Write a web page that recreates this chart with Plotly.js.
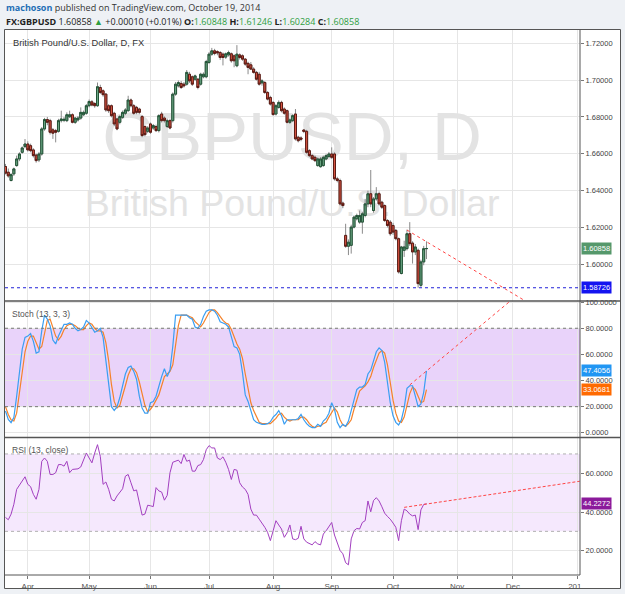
<!DOCTYPE html>
<html><head><meta charset="utf-8">
<script src="https://cdn.plot.ly/plotly-3.0.1.min.js"></script>
<style>html,body{margin:0;padding:0;background:#eef1f5;}#chart{width:625px;height:594px;}</style>
</head><body><div id="chart"></div>
<script>
// ---- trading days (daily bars, FX) ----
const dates = ('2014-03-20 2014-03-21 2014-03-24 2014-03-25 2014-03-26 2014-03-27 2014-03-28 2014-03-31 ' +
'2014-04-01 2014-04-02 2014-04-03 2014-04-04 2014-04-07 2014-04-08 2014-04-09 2014-04-10 2014-04-11 2014-04-14 2014-04-15 2014-04-16 2014-04-17 2014-04-18 2014-04-21 2014-04-22 2014-04-23 2014-04-24 2014-04-25 2014-04-28 2014-04-29 2014-04-30 ' +
'2014-05-01 2014-05-02 2014-05-05 2014-05-06 2014-05-07 2014-05-08 2014-05-09 2014-05-12 2014-05-13 2014-05-14 2014-05-15 2014-05-16 2014-05-19 2014-05-20 2014-05-21 2014-05-22 2014-05-23 2014-05-26 2014-05-27 2014-05-28 2014-05-29 2014-05-30 ' +
'2014-06-02 2014-06-03 2014-06-04 2014-06-05 2014-06-06 2014-06-09 2014-06-10 2014-06-11 2014-06-12 2014-06-13 2014-06-16 2014-06-17 2014-06-18 2014-06-19 2014-06-20 2014-06-23 2014-06-24 2014-06-25 2014-06-26 2014-06-27 2014-06-30 ' +
'2014-07-01 2014-07-02 2014-07-03 2014-07-04 2014-07-07 2014-07-08 2014-07-09 2014-07-10 2014-07-11 2014-07-14 2014-07-15 2014-07-16 2014-07-17 2014-07-18 2014-07-21 2014-07-22 2014-07-23 2014-07-24 2014-07-25 2014-07-28 2014-07-29 2014-07-30 2014-07-31 ' +
'2014-08-01 2014-08-04 2014-08-05 2014-08-06 2014-08-07 2014-08-08 2014-08-11 2014-08-12 2014-08-13 2014-08-14 2014-08-15 2014-08-18 2014-08-19 2014-08-20 2014-08-21 2014-08-22 2014-08-25 2014-08-26 2014-08-27 2014-08-28 2014-08-29 ' +
'2014-09-01 2014-09-02 2014-09-03 2014-09-04 2014-09-05 2014-09-08 2014-09-09 2014-09-10 2014-09-11 2014-09-12 2014-09-15 2014-09-16 2014-09-17 2014-09-18 2014-09-19 2014-09-22 2014-09-23 2014-09-24 2014-09-25 2014-09-26 2014-09-29 2014-09-30 ' +
'2014-10-01 2014-10-02 2014-10-03 2014-10-06 2014-10-07 2014-10-08 2014-10-09 2014-10-10 2014-10-13 2014-10-14 2014-10-15 2014-10-16 2014-10-17').split(' ');

const open = [1.6531,1.6500,1.6455,1.6491,1.6536,1.6572,1.6608,1.6639,
1.6653,1.6644,1.6621,1.6593,1.6567,1.6599,1.6735,1.6786,1.6780,1.6730,1.6726,1.6722,1.6780,1.6782,1.6780,1.6801,1.6812,1.6771,1.6784,1.6794,1.6812,1.6820,
1.6861,1.6882,1.6873,1.6861,1.6960,1.6942,1.6924,1.6861,1.6861,1.6820,1.6789,1.6771,1.6798,1.6820,1.6834,1.6892,1.6861,1.6852,1.6843,1.6802,1.6748,1.6722,
1.6762,1.6740,1.6748,1.6726,1.6816,1.6794,1.6748,1.6780,1.6780,1.6924,1.6969,1.6982,1.6978,1.6978,1.7032,1.7018,1.7005,1.7005,1.6978,1.7018,1.7018,
1.7096,1.7141,1.7159,1.7155,1.7150,1.7141,1.7125,1.7137,1.7143,1.7132,1.7078,1.7137,1.7132,1.7114,1.7091,1.7083,1.7060,1.7042,1.7032,1.6985,1.6987,1.6933,1.6906,
1.6879,1.6816,1.6852,1.6879,1.6843,1.6834,1.6771,1.6780,1.6816,1.6690,1.6686,1.6729,1.6722,1.6617,1.6590,1.6581,1.6536,1.6530,1.6536,1.6572,1.6585,
1.6599,1.6599,1.6464,1.6455,1.6332,1.6157,1.6098,1.6103,1.6202,1.6247,1.6229,1.6229,1.6265,1.6328,1.6383,1.6292,1.6355,1.6383,1.6337,1.6319,1.6238,1.6229,
1.6211,1.6184,1.6139,1.5950,1.6076,1.6085,1.6166,1.6115,1.6067,1.6076,1.5886,1.6013,1.60848];
const high = [1.6545,1.6520,1.6495,1.6525,1.6590,1.6608,1.6640,1.6680,
1.6668,1.6655,1.6630,1.6600,1.6610,1.6745,1.6795,1.6800,1.6790,1.6740,1.6735,1.6790,1.6834,1.6800,1.6825,1.6834,1.6820,1.6800,1.6805,1.6852,1.6835,1.6870,
1.6895,1.6892,1.6880,1.6987,1.6975,1.6950,1.6930,1.6870,1.6868,1.6828,1.6795,1.6810,1.6835,1.6848,1.6915,1.6900,1.6870,1.6860,1.6850,1.6810,1.6755,1.6750,
1.6770,1.6762,1.6758,1.6815,1.6828,1.6803,1.6790,1.6790,1.6933,1.6990,1.6998,1.6995,1.6990,1.7055,1.7045,1.7025,1.7030,1.7012,1.7040,1.7042,1.7110,
1.7152,1.7175,1.7170,1.7162,1.7158,1.7150,1.7150,1.7160,1.7150,1.7140,1.7190,1.7145,1.7140,1.7120,1.7100,1.7098,1.7070,1.7050,1.7045,1.7005,1.6995,1.6940,1.6915,
1.6885,1.6870,1.6890,1.6888,1.6852,1.6840,1.6792,1.6815,1.6843,1.6698,1.6695,1.6735,1.6730,1.6625,1.6598,1.6590,1.6580,1.6582,1.6590,1.6600,1.6610,
1.6635,1.6608,1.6475,1.6465,1.6340,1.6220,1.6135,1.6215,1.6265,1.6275,1.6292,1.6285,1.6355,1.6400,1.6512,1.6365,1.6419,1.6395,1.6345,1.6325,1.6245,1.6240,
1.6225,1.6192,1.6145,1.6100,1.6128,1.6188,1.6229,1.6125,1.6110,1.6085,1.6025,1.6100,1.61246];
const low = [1.6488,1.6470,1.6450,1.6480,1.6530,1.6560,1.6600,1.6630,
1.6612,1.6608,1.6580,1.6552,1.6555,1.6590,1.6725,1.6755,1.6705,1.6681,1.6662,1.6715,1.6770,1.6772,1.6772,1.6795,1.6765,1.6762,1.6775,1.6785,1.6805,1.6812,
1.6852,1.6858,1.6850,1.6855,1.6925,1.6910,1.6828,1.6822,1.6798,1.6750,1.6728,1.6760,1.6790,1.6810,1.6828,1.6852,1.6812,1.6815,1.6815,1.6690,1.6695,1.6712,
1.6708,1.6730,1.6718,1.6716,1.6770,1.6770,1.6740,1.6733,1.6770,1.6915,1.6960,1.6952,1.6960,1.6970,1.6985,1.6968,1.6995,1.6950,1.6970,1.7010,1.7010,
1.7088,1.7132,1.7135,1.7135,1.7110,1.7080,1.7115,1.7128,1.7095,1.7070,1.7070,1.7112,1.7105,1.7078,1.7032,1.7055,1.7035,1.6998,1.6970,1.6970,1.6925,1.6890,1.6862,
1.6807,1.6808,1.6845,1.6825,1.6812,1.6765,1.6762,1.6772,1.6672,1.6662,1.6668,1.6712,1.6600,1.6582,1.6565,1.6555,1.6530,1.6525,1.6530,1.6565,1.6578,
1.6572,1.6455,1.6445,1.6320,1.6305,1.6090,1.6050,1.6058,1.6195,1.6238,1.6220,1.6166,1.6255,1.6310,1.6310,1.6280,1.6345,1.6318,1.6300,1.6230,1.6200,1.6155,
1.6160,1.6130,1.5950,1.5945,1.6040,1.6075,1.6100,1.6004,1.6050,1.58726,1.5877,1.5995,1.60284];
const close = [1.6495,1.6480,1.6487,1.6518,1.6572,1.6599,1.6632,1.6653,
1.6621,1.6617,1.6590,1.6563,1.6599,1.6735,1.6786,1.6771,1.6717,1.6712,1.6717,1.6780,1.6789,1.6787,1.6812,1.6812,1.6771,1.6794,1.6794,1.6825,1.6825,1.6861,
1.6884,1.6865,1.6861,1.6964,1.6933,1.6921,1.6838,1.6834,1.6807,1.6762,1.6735,1.6802,1.6825,1.6838,1.6892,1.6861,1.6820,1.6825,1.6825,1.6699,1.6704,1.6740,
1.6717,1.6753,1.6726,1.6807,1.6780,1.6780,1.6780,1.6740,1.6924,1.6978,1.6987,1.6960,1.6969,1.7042,1.6996,1.6978,1.7023,1.6960,1.7032,1.7032,1.7101,
1.7141,1.7159,1.7145,1.7148,1.7123,1.7123,1.7143,1.7150,1.7105,1.7105,1.7141,1.7123,1.7114,1.7087,1.7069,1.7060,1.7042,1.7005,1.6978,1.6996,1.6933,1.6897,1.6870,
1.6813,1.6861,1.6879,1.6834,1.6820,1.6771,1.6784,1.6807,1.6681,1.6671,1.6679,1.6722,1.6608,1.6590,1.6572,1.6563,1.6572,1.6572,1.6581,1.6590,1.6599,
1.6581,1.6464,1.6455,1.6328,1.6319,1.6098,1.6120,1.6202,1.6256,1.6265,1.6265,1.6274,1.6328,1.6383,1.6328,1.6355,1.6383,1.6328,1.6310,1.6238,1.6211,1.6166,
1.6175,1.6139,1.5959,1.6094,1.6094,1.6166,1.6112,1.6067,1.6094,1.5895,1.6013,1.60848,1.60858];

const stochK = [16.7,10.3,7.8,11.6,28,48,64,73,74,76,
70,61,62,78,90,87,82,71,68,74,
79,83,83,84,83,80,78,79,81,86,
84,80,77,78,80,73,55,36,20,17,
20,27,36,45,50,51,47,41,28,19,
15,15,23,24,28,36,43,49,43,48,
66,90,90,90,90,90,88,87,81,80,
83,89,93,94,94,93,90,85,84,83,
81,73,66,65,60,46,29,24,17,10,
8,7,6.5,6.5,7,8.5,12,14,17,13,
6.5,10,10,10,10,11,14,10,7,5,
4,4,6.5,5,9,11,15,23,18,8,
4,6.5,5,9,17,27,33,35,35,37,
45,48,56,62,65,63,54,38,23,13,
8,6,10,19,34,36,36,28,20,22,
31,47.4056];
const stochD = [20,14,10,9,15,30,47,62,70,74,
74,69,64,66,77,86,87,80,74,71,
74,79,82,83,83,82,80,79,79,82,
84,83,80,78,78,77,69,55,37,24,
19,21,28,36,44,49,49,46,39,29,
21,16,18,21,25,29,36,43,45,47,
52,68,82,90,90,90,89,88,85,83,
81,84,88,92,94,94,92,89,86,84,
83,79,73,68,64,57,45,33,23,17,
12,8,7,7,7,7,9,11,14,15,
12,10,9,10,10,10,12,12,10,7,
5,4,5,5,7,8,12,16,19,16,
10,6,5,7,10,18,26,32,34,36,
39,43,50,55,61,63,61,52,38,25,
15,9,8,12,21,30,35,33,28,23,
24,33.0681];
const rsi = [37.2,36,38.9,44,51.7,53.8,56,58.2,54.3,53.1,
49.1,46.6,51.7,66.2,67.9,66.2,59.4,59.4,60.3,64.5,
64.5,63.7,66.2,60.3,62,62,62.3,63.3,66.8,70.5,
67.9,65.4,70.5,74.8,68.8,54.3,55.5,51.7,46.6,45.7,
48.3,50,52,58.5,59.4,55.1,50.9,51.4,44.9,38.4,
38.9,43.5,43.2,42.8,52.6,50.9,50.3,46.1,48.6,60.3,
65.7,66.2,66.8,65,69.7,66.2,66.8,61.1,61.1,64,
64.5,67.1,72.2,74.3,73.1,73.1,67.9,67.1,68.5,65.7,
62,56.8,62,61.6,55.1,52.9,51.7,49.1,41.5,38.4,
38.4,36.3,34.3,32.1,29.5,25.2,30.3,35.5,33.3,31.2,
26.9,29.2,33.3,26.1,25.7,26.4,32.6,26.1,24.4,23.9,
23,24.7,23.5,23,28.6,30.3,32.6,34.6,28.1,23.7,
20.1,18.4,13.8,12.7,26.1,30.3,31.5,31.2,34.6,35.5,
45.7,40.1,45.9,47.4,45.7,42.7,39.4,37.7,36.3,34.3,
32.1,25.2,35.5,41.5,40.6,38.9,38,38.4,30.9,41.1,
43.9,44.2272];

const monthTicks = ['2014-04-01','2014-05-01','2014-06-02','2014-07-01','2014-08-01','2014-09-01','2014-10-01','2014-11-03','2014-12-01','2015-01-01'];
const monthLabels = ['Apr','May','Jun','Jul','Aug','Sep','Oct','Nov','Dec','2015'];
const stochTicks = [0,20,40,60,80,100];
const rsiTicks = [20,40,60];
const lowLevel = 1.58726;
const change = '+0.00010 (+0.01%)';
// drawn trend lines [start, end]
const priceTrendX = ['2014-10-08','2014-12-05'], priceTrendY = [1.6186,1.5805];
const stochTrendX = ['2014-10-09','2014-12-03'], stochTrendY = [36.6,106.1];
const rsiTrendX = ['2014-10-07','2015-01-02'], rsiTrendY = [42.4,55.9];
const watermark1 = 'GBPUSD, D', watermark2 = 'British Pound/U.S. Dollar';

// ---- presentation ----
const N = close.length;
const T = d => d + ' 12:00';
const xd = dates.map(T);
const bodyHi = open.map((o,i)=>Math.max(o,close[i]));
const bodyLo = open.map((o,i)=>Math.min(o,close[i]));
const PX = x => x/625, PY = y => 1 - y/594;
const mainDom = [PY(301), PY(30)], stochDom = [PY(437), PY(301)], rsiDom = [PY(575), PY(438)];
const FONT = 'Liberation Sans, Arial, sans-serif';
const HFONT = 'Open Sans, Liberation Sans, sans-serif';

const traces = [
  {type:'scatter', mode:'text', x:['2014-08-12 07:00','2014-08-12 07:00'], y:[0.583,0.35], yaxis:'y4',
   text:[watermark1, watermark2], textposition:'middle center', cliponaxis:false,
   textfont:{family:FONT, size:[69,37.5], color:'#e3e3e3'}, hoverinfo:'skip'},
  {type:'candlestick', x:xd, open:open, high:high, low:low, close:close, yaxis:'y',
   increasing:{line:{color:'#8a8a8a',width:1}, fillcolor:'#8a8a8a'},
   decreasing:{line:{color:'#8a8a8a',width:1}, fillcolor:'#8a8a8a'}, whiskerwidth:0, hoverinfo:'skip'},
  {type:'candlestick', x:xd, open:open, high:bodyHi, low:bodyLo, close:close, yaxis:'y',
   increasing:{line:{color:'#225437',width:1}, fillcolor:'#6ba583'},
   decreasing:{line:{color:'#5b1a13',width:1}, fillcolor:'#d75442'}, whiskerwidth:0, hoverinfo:'skip'},
  {type:'scatter', mode:'lines', x:xd, y:stochD, yaxis:'y2', line:{color:'#f5822a', width:1.2}, hoverinfo:'skip'},
  {type:'scatter', mode:'lines', x:xd, y:stochK, yaxis:'y2', line:{color:'#3a9ef2', width:1.2}, hoverinfo:'skip'},
  {type:'scatter', mode:'lines', x:xd, y:rsi, yaxis:'y3', line:{color:'#a23fc0', width:1}, hoverinfo:'skip'}
];

const axCommon = {side:'right', anchor:'x', ticks:'outside', ticklen:3, tickcolor:'#777',
  tickfont:{family:FONT, size:7.5, color:'#444'}, showgrid:true, gridcolor:'#e6e6e6', gridwidth:1,
  zeroline:false, showline:false, fixedrange:true};

const shapes = [
  {type:'rect', xref:'paper', yref:'paper', x0:PX(4.5), x1:PX(620.5), y0:PY(588.5), y1:PY(29.5), fillcolor:'#ffffff', line:{width:0}, layer:'below'},
  {type:'rect', xref:'paper', yref:'y2', x0:PX(5), x1:PX(580), y0:20, y1:80, fillcolor:'#e9d3fa', line:{width:0}, layer:'below'},
  {type:'rect', xref:'paper', yref:'y3', x0:PX(5), x1:PX(580), y0:30, y1:70, fillcolor:'#f5e8fd', line:{width:0}, layer:'below'},
  {type:'line', xref:'paper', yref:'y2', x0:PX(5), x1:PX(580), y0:80, y1:80, line:{color:'#777', width:1, dash:'dot'}},
  {type:'line', xref:'paper', yref:'y2', x0:PX(5), x1:PX(580), y0:20, y1:20, line:{color:'#777', width:1, dash:'dot'}},
  {type:'line', xref:'paper', yref:'y3', x0:PX(5), x1:PX(580), y0:70, y1:70, line:{color:'#b0b0b0', width:1, dash:'dot'}},
  {type:'line', xref:'paper', yref:'y3', x0:PX(5), x1:PX(580), y0:30, y1:30, line:{color:'#b0b0b0', width:1, dash:'dot'}},
  {type:'line', xref:'paper', yref:'y', x0:PX(5), x1:PX(580), y0:lowLevel, y1:lowLevel, line:{color:'#2020d8', width:1, dash:'dot'}},
  {type:'line', xref:'x', yref:'y', x0:T(priceTrendX[0]), x1:T(priceTrendX[1]), y0:priceTrendY[0], y1:priceTrendY[1], line:{color:'#ff4545', width:1, dash:'dot'}},
  {type:'line', xref:'x', yref:'y2', x0:T(stochTrendX[0]), x1:T(stochTrendX[1]), y0:stochTrendY[0], y1:stochTrendY[1], line:{color:'#ff4545', width:1, dash:'dot'}},
  {type:'line', xref:'x', yref:'y3', x0:T(rsiTrendX[0]), x1:T(rsiTrendX[1]), y0:rsiTrendY[0], y1:rsiTrendY[1], line:{color:'#ff4545', width:1, dash:'3px,2px'}},
  // frame & separators
  {type:'rect', xref:'paper', yref:'paper', x0:PX(580.5), x1:PX(620), y0:PY(588), y1:PY(575.5), fillcolor:'#ffffff', line:{width:0}},
  {type:'rect', xref:'paper', yref:'paper', x0:PX(4.5), x1:PX(620.5), y0:PY(588.5), y1:PY(29.5), line:{color:'#555', width:1}},
  {type:'line', xref:'paper', yref:'paper', x0:PX(4.5), x1:PX(620.5), y0:PY(301), y1:PY(301), line:{color:'#555', width:1.5}},
  {type:'line', xref:'paper', yref:'paper', x0:PX(4.5), x1:PX(620.5), y0:PY(437.5), y1:PY(437.5), line:{color:'#555', width:1.5}},
  {type:'line', xref:'paper', yref:'paper', x0:PX(580), x1:PX(580), y0:PY(575), y1:PY(29.5), line:{color:'#555', width:1}},
  {type:'line', xref:'paper', yref:'paper', x0:PX(4.5), x1:PX(580), y0:PY(575), y1:PY(575), line:{color:'#555', width:1}}
];

const G = '#2f9e3f';
const hdr2 = '<b>FX:GBPUSD</b> ' + close[N-1].toFixed(5) + ' <span style="color:' + G + '">▲</span> ' + change +
  ' <b>O:</b><span style="color:' + G + '">' + open[N-1].toFixed(5) + '</span>' +
  ' <b>H:</b><span style="color:' + G + '">' + high[N-1].toFixed(5) + '</span>' +
  ' <b>L:</b><span style="color:' + G + '">' + low[N-1].toFixed(5) + '</span>' +
  ' <b>C:</b><span style="color:' + G + '">' + close[N-1].toFixed(5) + '</span>';

function lab(text, x, y, size, color, fam) {
  return {text:text, xref:'paper', yref:'paper', x:PX(x), y:PY(y), xanchor:'left', yanchor:'middle',
    showarrow:false, font:{family:fam || FONT, size:size, color:color}};
}
function box(text, yref, yv, bg) {
  return {text:text, xref:'paper', yref:yref, x:PX(580.5), y:yv, xanchor:'left', yanchor:'middle',
    showarrow:false, bgcolor:bg, borderpad:1, font:{family:FONT, size:7.5, color:'#ffffff'}};
}
const annotations = [
  lab('<b><span style="color:#1f6fb5">machoson</span></b> published on TradingView.com, October 19, 2014', 4, 7, 9, '#333', HFONT),
  lab(hdr2, 4, 21, 9, '#222', HFONT),
  lab('British Pound/U.S. Dollar, D, FX', 10.5, 43.5, 9.3, '#333'),
  lab('Stoch (13, 3, 3)', 9.5, 314, 8.5, '#555'),
  lab('RSI (13, close)', 9.5, 449.5, 8.5, '#555'),
  box(close[N-1].toFixed(5), 'y', close[N-1], '#55986b'),
  box(lowLevel.toFixed(5), 'y', lowLevel, '#1414f0'),
  box(stochK[N-1].toFixed(4), 'y2', stochK[N-1], '#2196f3'),
  box(stochD[N-1].toFixed(4), 'y2', stochD[N-1], '#ff6a00'),
  box(rsi[N-1].toFixed(4), 'y3', rsi[N-1], '#8b1a9b')
];

const layout = {
  width:625, height:594, margin:{l:0,r:0,t:0,b:0},
  paper_bgcolor:'#eef1f5', plot_bgcolor:'rgba(0,0,0,0)', showlegend:false,
  font:{family:FONT, size:8, color:'#444'},
  boxgap:0.28, boxgroupgap:0, hovermode:false,
  xaxis:{type:'date', domain:[PX(5), PX(580)], anchor:'y3',
    range:['2014-03-20 07:42','2015-01-02 13:26'], rangebreaks:[{bounds:['sat','mon']}],
    tickvals:monthTicks.map(T), ticktext:monthLabels, ticks:'outside', ticklen:3, tickcolor:'#777',
    tickfont:{family:FONT, size:8, color:'#555'}, showgrid:true, gridcolor:'#e6e6e6', gridwidth:1,
    zeroline:false, showline:false, rangeslider:{visible:false}, fixedrange:true},
  yaxis:Object.assign({}, axCommon, {domain:mainDom, overlaying:'y4', range:[1.58007,1.72722], dtick:0.02, tick0:0, tickformat:'.5f'}),
  yaxis2:Object.assign({}, axCommon, {domain:stochDom, range:[-3.21,100.85], tickvals:stochTicks, tickformat:'.4f'}),
  yaxis3:Object.assign({}, axCommon, {domain:rsiDom, range:[7.44,78.24], tickvals:rsiTicks, tickformat:'.4f'}),
  yaxis4:{domain:mainDom, range:[0,1], visible:false, anchor:'x', fixedrange:true},
  shapes:shapes, annotations:annotations
};

Plotly.newPlot('chart', traces, layout, {displayModeBar:false, staticPlot:true});
</script></body></html>
